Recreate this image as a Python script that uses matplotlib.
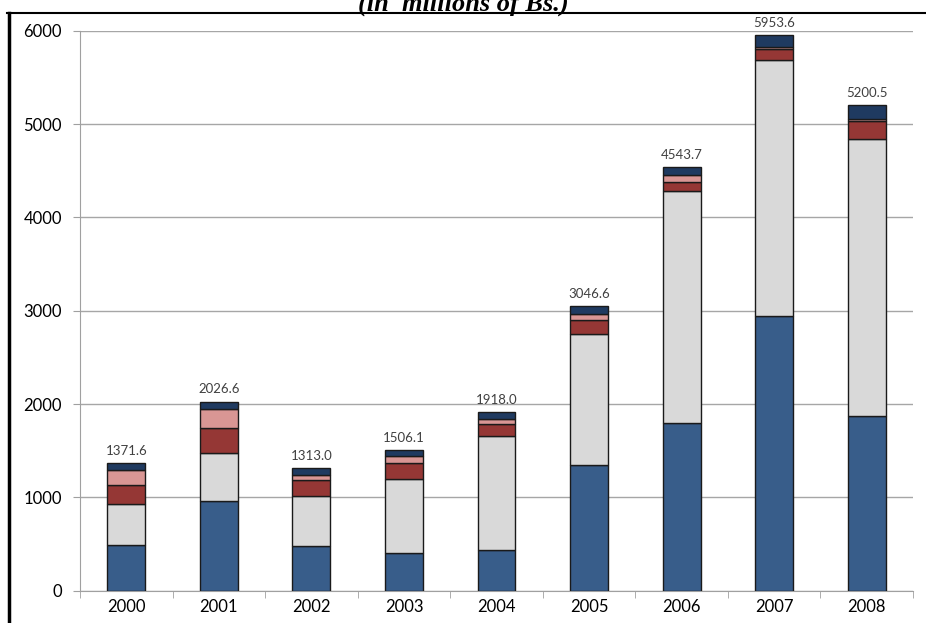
import matplotlib.pyplot as plt
import numpy as np
from matplotlib.lines import Line2D

years = ["2000", "2001", "2002", "2003", "2004", "2005", "2006", "2007", "2008"]
totals = [1371.6, 2026.6, 1313.0, 1506.1, 1918.0, 3046.6, 4543.7, 5953.6, 5200.5]

# stacked components, bottom to top
seg_blue = [485, 958, 479, 400, 436, 1347, 1800, 2943, 1872]
seg_gray = [440, 513, 535, 800, 1218, 1407, 2479, 2743, 2964]
seg_red = [207, 272, 172, 171, 129, 143, 100, 114, 193]
seg_pink = [166, 203, 57, 68, 57, 71, 71, 29, 28]
seg_navy = [73.6, 80.6, 70.0, 67.1, 78.0, 78.6, 93.7, 124.6, 143.5]

COLORS = ["#385D8A", "#D9D9D9", "#953735", "#D99694", "#1F3A60"]

plt.rcParams["font.family"] = ["Lato", "DejaVu Sans"]

fig = plt.figure(figsize=(9.26, 6.23), dpi=100)
ax = fig.add_axes([80 / 926, 1 - 590.7 / 623, 833 / 926, 560 / 623])

x = np.arange(len(years))
bottom = np.zeros(len(years))
for values, color in zip([seg_blue, seg_gray, seg_red, seg_pink, seg_navy], COLORS):
    ax.bar(x, values, bottom=bottom, width=0.41, color=color,
           edgecolor="#1a1a1a", linewidth=1.0, zorder=3)
    bottom += np.array(values)

for xi, total in zip(x, totals):
    ax.text(xi, total + 65, f"{total:.1f}", ha="center", va="bottom",
            fontsize=9.5, color="#404040", zorder=4)

ax.set_xlim(-0.5, len(years) - 0.5)
ax.set_ylim(0, 6000)
ax.set_yticks(range(0, 6001, 1000))
ax.set_xticks(x)
ax.set_xticklabels(years)
ax.set_xticks(np.arange(-0.5, len(years), 1.0), minor=True)
ax.tick_params(axis="x", which="major", length=0, labelsize=12, pad=6)
ax.tick_params(axis="x", which="minor", length=5, color="#a0a0a0", direction="out")
ax.tick_params(axis="y", length=5, color="#a0a0a0", labelsize=12, pad=8)

ax.grid(axis="y", color="#a6a6a6", linewidth=1.0, zorder=0)
for side in ["top", "right"]:
    ax.spines[side].set_visible(False)
for side in ["left", "bottom"]:
    ax.spines[side].set_color("#a0a0a0")

# title, cropped at the top of the picture as in the source
fig.text(0.5, 1 - 11 / 623, "(in  millions of Bs.)", ha="center", va="baseline",
         fontsize=19, fontweight="bold", fontstyle="italic",
         family=["Liberation Serif", "DejaVu Serif"])

# surrounding frame lines
fig.add_artist(Line2D([8.5 / 926, 8.5 / 926], [0, 1 - 13 / 623],
                      transform=fig.transFigure, color="black", linewidth=2.5))
fig.add_artist(Line2D([7 / 926, 1], [1 - 13 / 623, 1 - 13 / 623],
                      transform=fig.transFigure, color="black", linewidth=1.5))

fig.savefig("out.png", dpi=100)
